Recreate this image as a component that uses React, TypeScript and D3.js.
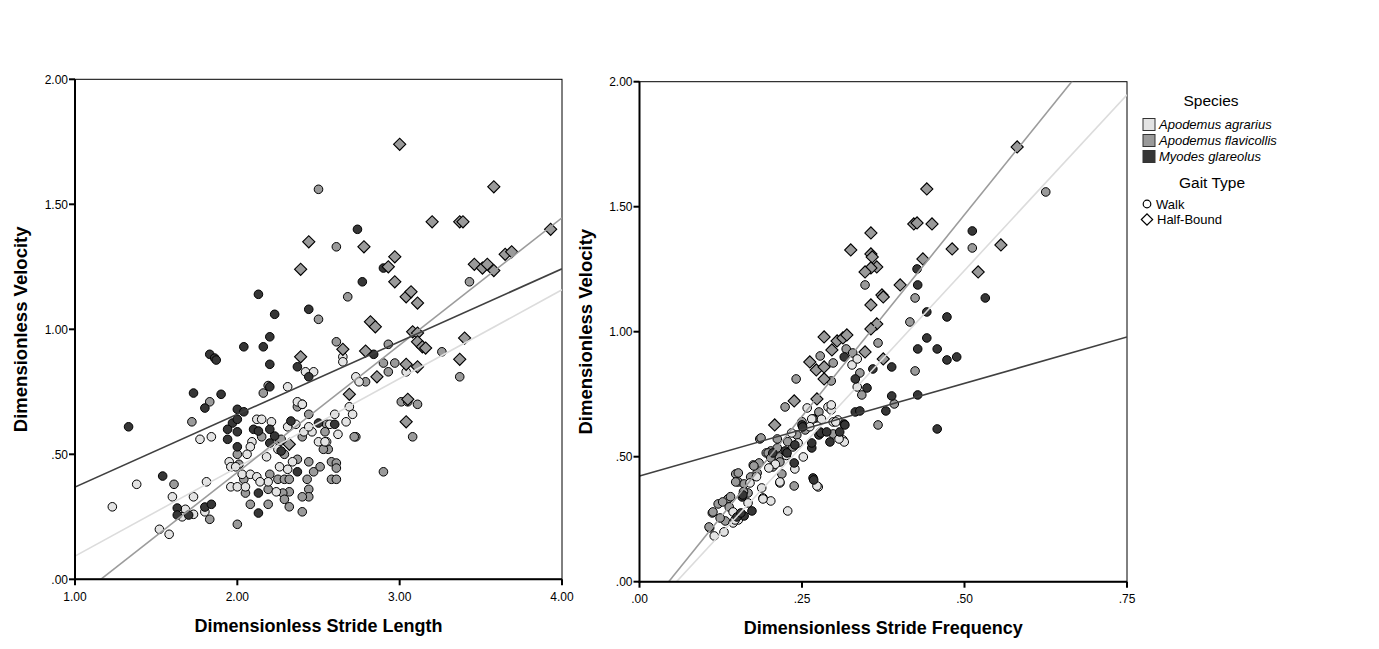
import React from 'react';
import * as d3 from 'd3';

type Pt = [number, number];

// Legend and styling per species (index 0: agrarius, 1: flavicollis, 2: glareolus)
const speciesNames = ['Apodemus agrarius', 'Apodemus flavicollis', 'Myodes glareolus'];
const speciesFill = ['#e3e3e3', '#9a9a9a', '#363636'];
const fitColors = ['#dcdcdc', '#9c9c9c', '#404040'];
const gaitNames = ['Walk', 'Half-Bound'];

const velocityTicks = [0, 0.5, 1, 1.5, 2];
const velocityTickLabels = ['.00', '.50', '1.00', '1.50', '2.00'];
const lengthTicks = [1, 2, 3, 4];
const lengthTickLabels = ['1.00', '2.00', '3.00', '4.00'];
const freqTicks = [0, 0.25, 0.5, 0.75];
const freqTickLabels = ['.00', '.25', '.50', '.75'];

// ---- Stride length vs velocity ----
const lengthAgrariusWalk: Pt[] = [
  [2.31, 0.77], [2.42, 0.83], [2.47, 0.83], [2.73, 0.81], [2.65, 0.89], [2.65, 0.87], [3.04, 0.83],
  [2.37, 0.71], [2.40, 0.70], [2.69, 0.69], [2.71, 0.66], [2.60, 0.66], [2.67, 0.63], [2.31, 0.61],
  [2.46, 0.59], [2.50, 0.55], [2.55, 0.55], [1.77, 0.56], [1.84, 0.57], [2.12, 0.64], [2.15, 0.64],
  [2.21, 0.63], [2.09, 0.55], [2.08, 0.53], [2.41, 0.59], [2.44, 0.61], [2.54, 0.55], [2.75, 0.79],
  [1.95, 0.47], [1.96, 0.45], [1.99, 0.45], [2.03, 0.42], [2.08, 0.42], [2.12, 0.41], [1.96, 0.37],
  [2.00, 0.37], [2.05, 0.37], [2.19, 0.39], [2.31, 0.44], [2.24, 0.35], [1.23, 0.29], [1.38, 0.38],
  [1.52, 0.20], [1.58, 0.18], [1.60, 0.33], [1.73, 0.33], [1.81, 0.39], [1.68, 0.28], [1.66, 0.25],
  [1.73, 0.26], [1.80, 0.27], [2.14, 0.39], [2.26, 0.45], [2.34, 0.47], [2.18, 0.49], [2.57, 0.62],
  [2.62, 0.58], [2.36, 0.62], [2.06, 0.50], [2.25, 0.52],
];
const lengthFlavicollisWalk: Pt[] = [
  [2.50, 1.56], [2.61, 1.33], [3.43, 1.19], [2.68, 1.13], [2.50, 1.04], [2.61, 0.95], [2.93, 0.94],
  [2.90, 0.865], [2.97, 0.865], [3.26, 0.91], [3.37, 0.81], [2.93, 0.83], [2.79, 0.79], [3.01, 0.71],
  [3.05, 0.71], [3.11, 0.70], [3.08, 0.57], [2.90, 0.43], [2.44, 0.66], [2.55, 0.62],
  [2.73, 0.57], [2.40, 0.57], [2.26, 0.55], [2.19, 0.775], [2.16, 0.745], [1.83, 0.71], [1.72, 0.63],
  [2.00, 0.22], [1.61, 0.38], [1.83, 0.24], [2.15, 0.57], [2.27, 0.56], [2.00, 0.50], [2.01, 0.46],
  [2.04, 0.40], [2.29, 0.50], [2.37, 0.48], [2.44, 0.47], [2.47, 0.43], [2.51, 0.45], [2.25, 0.40],
  [2.29, 0.40], [2.32, 0.40], [2.43, 0.40], [2.44, 0.36], [2.44, 0.33], [2.40, 0.33], [2.32, 0.35],
  [2.28, 0.345], [2.29, 0.32], [2.32, 0.29], [2.40, 0.27], [2.08, 0.30], [2.19, 0.30], [2.19, 0.36],
  [2.20, 0.42], [2.58, 0.47], [2.61, 0.465], [2.61, 0.445], [2.58, 0.40], [2.61, 0.40], [2.72, 0.57],
  [2.54, 0.59], [2.56, 0.52], [2.53, 0.52], [2.05, 0.345], [2.37, 0.69], [2.40, 0.70],
];
const lengthFlavicollisHalfBound: Pt[] = [
  [3.00, 1.74], [3.58, 1.57], [3.20, 1.43], [3.37, 1.43], [3.39, 1.43], [3.93, 1.40], [2.44, 1.35],
  [2.78, 1.33], [2.97, 1.29], [3.65, 1.30], [3.69, 1.31], [2.39, 1.24], [2.93, 1.25], [2.97, 1.19],
  [3.46, 1.26], [3.51, 1.245], [3.54, 1.26], [3.58, 1.235], [3.04, 1.13], [3.07, 1.15], [3.11, 1.105],
  [2.82, 1.03], [2.85, 1.01], [3.08, 0.99], [3.11, 0.985], [3.11, 0.95], [3.14, 0.93], [3.16, 0.925],
  [3.40, 0.965], [3.37, 0.88], [2.39, 0.89], [2.65, 0.92], [2.79, 0.913], [3.04, 0.86], [3.11, 0.85],
  [2.86, 0.81], [2.69, 0.74], [3.05, 0.72], [3.04, 0.63], [2.32, 0.54],
];
const lengthGlareolusWalk: Pt[] = [
  [2.74, 1.40], [1.33, 0.61], [2.13, 1.14], [2.44, 1.08], [2.23, 1.06], [2.20, 0.97], [2.04, 0.93],
  [2.16, 0.93], [1.83, 0.90], [1.86, 0.885], [2.20, 0.86], [2.37, 0.85], [2.90, 1.245], [2.77, 1.19],
  [2.84, 0.90], [1.73, 0.745], [1.90, 0.74], [1.80, 0.685], [2.00, 0.68], [2.04, 0.67], [1.97, 0.625],
  [1.94, 0.60], [2.00, 0.64], [1.94, 0.56], [2.00, 0.59], [2.00, 0.53], [1.87, 0.877], [2.20, 0.77],
  [2.44, 0.81], [2.10, 0.60], [2.13, 0.593], [2.20, 0.60], [2.23, 0.573], [2.20, 0.545], [2.27, 0.513],
  [2.37, 0.43], [2.33, 0.633], [2.50, 0.625], [2.60, 0.62], [2.13, 0.265], [2.13, 0.345], [1.54, 0.413],
  [1.63, 0.285], [1.63, 0.257], [1.70, 0.257], [1.80, 0.289], [1.84, 0.30],
];
// Fitted lines (intercept, slope) for each species
const lengthFitIntercepts = [-0.262, -0.590, 0.078];
const lengthFitSlopes = [0.355, 0.509, 0.291];

// ---- Stride frequency vs velocity ----
const freqAgrariusWalk: Pt[] = [
  [0.190, 0.335], [0.202, 0.323], [0.188, 0.375], [0.216, 0.395], [0.252, 0.499], [0.244, 0.555],
  [0.258, 0.695], [0.313, 0.567], [0.290, 0.699], [0.295, 0.687], [0.298, 0.639], [0.305, 0.647],
  [0.265, 0.651], [0.228, 0.283], [0.275, 0.379], [0.144, 0.279], [0.152, 0.247], [0.144, 0.235],
  [0.167, 0.315], [0.327, 0.867], [0.335, 0.891], [0.335, 0.779], [0.315, 0.559], [0.307, 0.571],
  [0.302, 0.639], [0.295, 0.707], [0.190, 0.331], [0.216, 0.399], [0.239, 0.451], [0.273, 0.383],
  [0.115, 0.183], [0.130, 0.199], [0.147, 0.247], [0.209, 0.470], [0.226, 0.505], [0.180, 0.420],
  [0.234, 0.595], [0.262, 0.620], [0.199, 0.455], [0.170, 0.395], [0.280, 0.650],
];
const freqFlavicollisWalk: Pt[] = [
  [0.625, 1.559], [0.512, 1.335], [0.347, 1.187], [0.424, 1.135], [0.416, 1.039], [0.367, 0.955],
  [0.424, 0.843], [0.339, 0.835], [0.342, 0.747], [0.392, 0.711], [0.367, 0.627], [0.278, 0.903],
  [0.298, 0.875], [0.318, 0.931], [0.328, 0.915], [0.295, 0.803], [0.241, 0.811], [0.224, 0.699],
  [0.185, 0.571], [0.212, 0.571], [0.272, 0.655], [0.298, 0.591], [0.242, 0.587], [0.255, 0.607],
  [0.267, 0.651], [0.276, 0.679], [0.278, 0.599], [0.187, 0.575], [0.238, 0.383],
  [0.108, 0.215], [0.112, 0.275], [0.121, 0.311], [0.132, 0.243], [0.136, 0.331], [0.148, 0.431],
  [0.152, 0.399], [0.161, 0.391], [0.167, 0.355], [0.175, 0.467], [0.184, 0.475], [0.195, 0.515],
  [0.202, 0.523], [0.181, 0.435], [0.205, 0.459], [0.215, 0.499], [0.219, 0.431], [0.236, 0.539],
  [0.176, 0.463], [0.198, 0.515], [0.202, 0.495], [0.212, 0.535], [0.216, 0.479], [0.152, 0.435],
  [0.148, 0.399], [0.171, 0.419], [0.128, 0.319], [0.138, 0.299], [0.113, 0.279], [0.124, 0.255],
  [0.107, 0.219], [0.228, 0.560], [0.250, 0.640], [0.160, 0.360], [0.140, 0.340],
];
const freqFlavicollisHalfBound: Pt[] = [
  [0.581, 1.739], [0.442, 1.571], [0.422, 1.431], [0.427, 1.435], [0.450, 1.431], [0.356, 1.395],
  [0.325, 1.327], [0.481, 1.331], [0.556, 1.347], [0.356, 1.311], [0.358, 1.299], [0.365, 1.259],
  [0.356, 1.255], [0.347, 1.239], [0.521, 1.239], [0.436, 1.291], [0.401, 1.187], [0.373, 1.147],
  [0.375, 1.139], [0.356, 1.107], [0.365, 1.031], [0.356, 1.011], [0.284, 0.979], [0.296, 0.927],
  [0.304, 0.963], [0.313, 0.975], [0.319, 0.987], [0.347, 0.919], [0.375, 0.891], [0.262, 0.879],
  [0.272, 0.847], [0.284, 0.859], [0.284, 0.811], [0.238, 0.723], [0.273, 0.731], [0.208, 0.627],
];
const freqGlareolusWalk: Pt[] = [
  [0.512, 1.403], [0.427, 1.251], [0.532, 1.135], [0.428, 1.187], [0.473, 1.059], [0.442, 1.079],
  [0.442, 0.975], [0.428, 0.931], [0.458, 0.931], [0.473, 0.887], [0.488, 0.899], [0.388, 0.859],
  [0.359, 0.851], [0.332, 0.811], [0.350, 0.775], [0.388, 0.743], [0.428, 0.747], [0.379, 0.683],
  [0.332, 0.679], [0.339, 0.683], [0.458, 0.611], [0.315, 0.631], [0.308, 0.599], [0.293, 0.559],
  [0.276, 0.587], [0.279, 0.595], [0.265, 0.535], [0.267, 0.415], [0.288, 0.599], [0.315, 0.899],
  [0.173, 0.283], [0.161, 0.263], [0.150, 0.259], [0.158, 0.339], [0.224, 0.523], [0.238, 0.475],
  [0.268, 0.407], [0.250, 0.627], [0.316, 0.627], [0.159, 0.347], [0.156, 0.275],
  [0.205, 0.515], [0.227, 0.515], [0.239, 0.547], [0.251, 0.619], [0.265, 0.555],
];
const freqFitIntercepts = [-0.160, -0.145, 0.423];
const freqFitSlopes = [2.81, 3.226, 0.741];

type Series = { data: Pt[]; species: number; gait: number };

const FONT = 'Arial, "Liberation Sans", Helvetica, sans-serif';

const circlePath = d3.symbol().type(d3.symbolCircle).size(Math.PI * 4.3 * 4.3)();
const diamondPath = d3.symbol().type(d3.symbolSquare).size(74)();

function Marker({ gait, fill, x, y }: { gait: number; fill: string; x: number; y: number }) {
  if (gait === 0) {
    return <path d={circlePath || ''} transform={`translate(${x},${y})`} fill={fill} stroke="#000" strokeWidth={1} />;
  }
  return <path d={diamondPath || ''} transform={`translate(${x},${y}) rotate(45)`} fill={fill} stroke="#000" strokeWidth={1.1} />;
}

type PanelProps = {
  id: string;
  left: number; right: number; top: number; bottom: number;
  xDomain: [number, number];
  xTicks: number[]; xLabels: string[];
  xTitle: string; yTitleX: number;
  series: Series[];
  intercepts: number[]; slopes: number[];
};

function Panel(p: PanelProps) {
  const xs = d3.scaleLinear().domain(p.xDomain).range([p.left, p.right]);
  const ys = d3.scaleLinear().domain([0, 2]).range([p.bottom, p.top]);
  const line = d3.line<Pt>().x(d => xs(d[0])).y(d => ys(d[1]));
  const circles = p.series.filter(s => s.gait === 0);
  const diamonds = p.series.filter(s => s.gait === 1);
  return (
    <g>
      <defs>
        <clipPath id={`clip-${p.id}`}>
          <rect x={p.left} y={p.top} width={p.right - p.left} height={p.bottom - p.top} />
        </clipPath>
      </defs>
      <rect x={p.left} y={p.top} width={p.right - p.left} height={p.bottom - p.top} fill="#fff" stroke="#000" strokeWidth={1} />
      {[...circles, ...diamonds].map((s, si) => (
        <g key={si}>
          {s.data.map((d, i) => (
            <Marker key={i} gait={s.gait} fill={speciesFill[s.species]} x={xs(d[0])} y={ys(d[1])} />
          ))}
        </g>
      ))}
      <g clipPath={`url(#clip-${p.id})`}>
        {p.intercepts.map((b, k) => {
          const pts: Pt[] = p.xDomain.map(x => [x, b + p.slopes[k] * x] as Pt);
          return <path key={k} d={line(pts) || ''} fill="none" stroke={fitColors[k]} strokeWidth={1.6} />;
        })}
      </g>
      {/* axes */}
      <line x1={p.left} x2={p.left} y1={p.top} y2={p.bottom + 1} stroke="#000" strokeWidth={2} />
      <line x1={p.left - 1} x2={p.right} y1={p.bottom} y2={p.bottom} stroke="#000" strokeWidth={2} />
      {velocityTicks.map((t, i) => (
        <g key={`y${i}`}>
          <line x1={p.left - 6} x2={p.left} y1={ys(t)} y2={ys(t)} stroke="#000" strokeWidth={2} />
          <text x={p.left - 7} y={ys(t)} dy="0.36em" textAnchor="end" fontSize={12} fontFamily={FONT} fill="#000">
            {velocityTickLabels[i]}
          </text>
        </g>
      ))}
      {p.xTicks.map((t, i) => (
        <g key={`x${i}`}>
          <line x1={xs(t)} x2={xs(t)} y1={p.bottom} y2={p.bottom + 6} stroke="#000" strokeWidth={2} />
          <text x={xs(t)} y={p.bottom + 17} dy="0.36em" textAnchor="middle" fontSize={12} fontFamily={FONT} fill="#000">
            {p.xLabels[i]}
          </text>
        </g>
      ))}
      <text x={(p.left + p.right) / 2} y={p.bottom + 46} dy="0.36em" textAnchor="middle" fontSize={18} fontWeight="bold" fontFamily={FONT} fill="#000">
        {p.xTitle}
      </text>
      <text transform={`translate(${p.yTitleX},${(p.top + p.bottom) / 2}) rotate(-90)`} textAnchor="middle" dy="0.36em" fontSize={18.5} fontWeight="bold" fontFamily={FONT} fill="#000">
        Dimensionless Velocity
      </text>
    </g>
  );
}

function Legend() {
  const rowY = [124.5, 140.5, 156.5];
  return (
    <g fontFamily={FONT}>
      <text x={1211} y={100} dy="0.36em" textAnchor="middle" fontSize={15.5}>Species</text>
      {speciesNames.map((n, i) => (
        <g key={n}>
          <rect x={1143} y={rowY[i] - 6} width={12} height={12} fill={speciesFill[i]} stroke="#333" strokeWidth={1} />
          <text x={1159} y={rowY[i]} dy="0.36em" fontSize={13} fontStyle="italic">{n}</text>
        </g>
      ))}
      <text x={1212} y={182} dy="0.36em" textAnchor="middle" fontSize={15.5}>Gait Type</text>
      {gaitNames.map((g, i) => {
        const cy = 204 + i * 15.5;
        return (
          <g key={g}>
            {i === 0 ? (
              <circle cx={1147} cy={cy} r={3.8} fill="#fff" stroke="#000" strokeWidth={1.2} />
            ) : (
              <path d={d3.symbol().type(d3.symbolSquare).size(64)() || ''} transform={`translate(1147,${cy}) rotate(45)`} fill="#fff" stroke="#000" strokeWidth={1.2} />
            )}
            <text x={i === 0 ? 1156 : 1157} y={cy} dy="0.36em" fontSize={13}>{g}</text>
          </g>
        );
      })}
    </g>
  );
}

export default function App() {
  const lengthSeries: Series[] = [
    { data: lengthFlavicollisWalk, species: 1, gait: 0 },
    { data: lengthAgrariusWalk, species: 0, gait: 0 },
    { data: lengthGlareolusWalk, species: 2, gait: 0 },
    { data: lengthFlavicollisHalfBound, species: 1, gait: 1 },
  ];
  const freqSeries: Series[] = [
    { data: freqFlavicollisWalk, species: 1, gait: 0 },
    { data: freqAgrariusWalk, species: 0, gait: 0 },
    { data: freqGlareolusWalk, species: 2, gait: 0 },
    { data: freqFlavicollisHalfBound, species: 1, gait: 1 },
  ];
  return (
    <svg width={1379} height={649} style={{ position: 'absolute', left: 0, top: 0, background: '#fff' }}>
      <rect width={1379} height={649} fill="#fff" />
      <Panel id="len" left={75} right={562} top={79.3} bottom={579.3} xDomain={[1, 4]}
        xTicks={lengthTicks} xLabels={lengthTickLabels} xTitle="Dimensionless Stride Length" yTitleX={20}
        series={lengthSeries} intercepts={lengthFitIntercepts} slopes={lengthFitSlopes} />
      <Panel id="freq" left={639.5} right={1127} top={81.7} bottom={581.7} xDomain={[0, 0.75]}
        xTicks={freqTicks} xLabels={freqTickLabels} xTitle="Dimensionless Stride Frequency" yTitleX={585}
        series={freqSeries} intercepts={freqFitIntercepts} slopes={freqFitSlopes} />
      <Legend />
    </svg>
  );
}
